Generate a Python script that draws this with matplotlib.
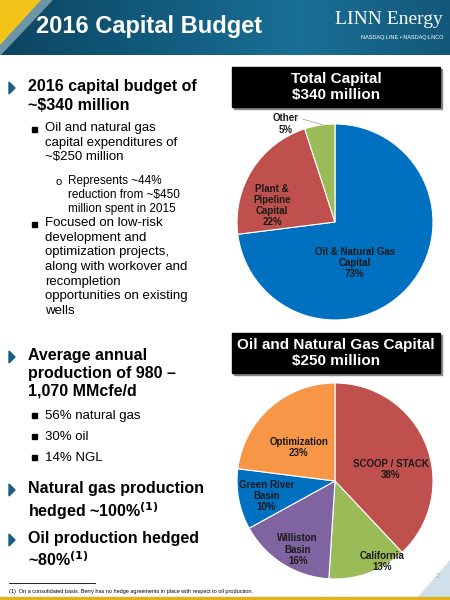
import matplotlib
matplotlib.use("Agg")
import matplotlib.pyplot as plt
import numpy as np
from matplotlib.patches import Rectangle, Polygon
from matplotlib.colors import LinearSegmentedColormap

total_labels = ["Oil & Natural Gas\nCapital\n73%", "Plant &\nPipeline\nCapital\n22%", "Other\n5%"]
total_values = [73, 22, 5]
total_colors = ["#0070C0", "#C0504D", "#9BBB59"]

ong_labels = ["SCOOP / STACK\n38%", "California\n13%", "Williston\nBasin\n16%", "Green River\nBasin\n10%", "Optimization\n23%"]
ong_values = [38, 13, 16, 10, 23]
ong_colors = ["#C0504D", "#9BBB59", "#8064A2", "#0070C0", "#F79646"]

W, H = 450, 600
fig = plt.figure(figsize=(4.5, 6), dpi=100)
fig.patch.set_facecolor("white")
plt.rcParams['font.family'] = ['Liberation Sans', 'DejaVu Sans']

def ax_px(x0, y0, w, h, **kw):
    return fig.add_axes([x0 / W, 1 - (y0 + h) / H, w / W, h / H], **kw)

# header
hax = ax_px(0, 0, 450, 55)
grad = np.linspace(0, 1, 256)[None, :]
cm = LinearSegmentedColormap.from_list("h", ["#0d4561", "#125a7c", "#1a6f96", "#13587a"])
hax.imshow(grad, aspect="auto", cmap=cm, extent=[0, 450, 55, 0])
hax.add_patch(Polygon([[0, 0], [42, 0], [0, 46]], closed=True, color="#f2c419"))
hax.add_patch(Polygon([[42, 0], [52, 0], [0, 55], [0, 46]], closed=True, color="#6f95a8"))
hax.set_xlim(0, 450); hax.set_ylim(55, 0); hax.axis("off")
hax.text(36, 27, "2016 Capital Budget", color="white", fontsize=17, fontweight="bold", va="center")
hax.text(443, 20, "LINN Energy", color="white", fontsize=14, family=["Liberation Serif"], ha="right", va="center")
hax.text(443, 38, "NASDAQ:LINE • NASDAQ:LNCO", color="white", fontsize=4, ha="right", va="center")

# text area
tax = ax_px(0, 0, 450, 600)
tax.set_xlim(0, 450); tax.set_ylim(600, 0); tax.axis("off")
tax.set_zorder(-1)

def arrow(y):
    tax.add_patch(Polygon([[9, y - 6], [9, y + 6], [15, y]], closed=True, color="#1a5d82"))

def sq(x, y):
    tax.add_patch(Rectangle((x, y - 3), 5, 5, color="black"))

arrow(88)
tax.text(28, 79, "2016 capital budget of\n~$340 million", fontsize=11.5, fontweight="bold", va="top", linespacing=1.3)
sq(32, 130)
tax.text(45, 122, "Oil and natural gas\ncapital expenditures of\n~$250 million", fontsize=9.5, va="top", linespacing=1.3)
tax.text(55, 182, "o", fontsize=8, va="center")
tax.text(68, 175, "Represents ~44%\nreduction from ~$450\nmillion spent in 2015", fontsize=8.5, va="top", linespacing=1.2)
sq(32, 225)
tax.text(45, 217, "Focused on low-risk\ndevelopment and\noptimization projects,\nalong with workover and\nrecompletion\nopportunities on existing\nwells", fontsize=9.5, va="top", linespacing=1.3)
arrow(357)
tax.text(28, 348, "Average annual\nproduction of 980 –\n1,070 MMcfe/d", fontsize=11.5, fontweight="bold", va="top", linespacing=1.25)
for y, s in [(416, "56% natural gas"), (437, "30% oil"), (458, "14% NGL")]:
    sq(32, y); tax.text(45, y, s, fontsize=9.5, va="center")
arrow(490)
tax.text(28, 481, "Natural gas production\nhedged ~100%$^{\\mathbf{(1)}}$", fontsize=11.5, fontweight="bold", va="top", linespacing=1.25)
arrow(540)
tax.text(28, 531, "Oil production hedged\n~80%$^{\\mathbf{(1)}}$", fontsize=11.5, fontweight="bold", va="top", linespacing=1.25)
tax.plot([9, 95], [583, 583], color="black", lw=0.6)
tax.text(9, 591, "(1)  On a consolidated basis. Berry has no hedge agreements in place with respect to oil production.", fontsize=4, va="center")
tax.text(440, 578, "2", fontsize=6, color="#bbbbbb", ha="right")
tax.add_patch(Polygon([[450, 560], [450, 600], [415, 600]], closed=True, color="#cfe0ea"))
tax.add_patch(Rectangle((0, 597), 450, 3, color="#e2b21c"))

# title boxes
for y0, s in [(67, "Total Capital\n$340 million"), (333, "Oil and Natural Gas Capital\n$250 million")]:
    tax.add_patch(Rectangle((234, y0 + 2), 208, 40, color="#888888"))
    tax.add_patch(Rectangle((232, y0), 208, 40, color="black"))
    tax.text(336, y0 + 20, s, color="white", fontsize=11, fontweight="bold", ha="center", va="center", linespacing=1.15)

lk = dict(fontsize=7, fontweight="bold", ha="center", va="center", color="#1a1a1a", linespacing=1.15)

# pie 1
p1 = ax_px(237, 124, 196, 196)
p1.pie(total_values, colors=total_colors, startangle=90, counterclock=False,
       wedgeprops=dict(edgecolor="white", linewidth=0.8))
p1.text(0.2, -0.42, total_labels[0], **lk)
p1.text(-0.64, 0.17, total_labels[1], **lk)
p1.text(-0.5, 1.0, total_labels[2], **lk, clip_on=False)
p1.plot([-0.33, -0.12], [1.05, 0.99], color="#aaaaaa", lw=0.6, clip_on=False)
p1.set_xlim(-1, 1); p1.set_ylim(-1, 1); p1.set_aspect("equal")

# pie 2
p2 = ax_px(237, 383, 196, 196)
p2.pie(ong_values, colors=ong_colors, startangle=90, counterclock=False,
       wedgeprops=dict(edgecolor="white", linewidth=0.8))
p2.text(0.57, 0.12, ong_labels[0], **lk)
p2.text(0.48, -0.82, ong_labels[1], **lk)
p2.text(-0.38, -0.7, ong_labels[2], **lk)
p2.text(-0.7, -0.15, ong_labels[3], **lk)
p2.text(-0.37, 0.34, ong_labels[4], **lk)
p2.set_xlim(-1, 1); p2.set_ylim(-1, 1); p2.set_aspect("equal")

fig.savefig("out.png", dpi=100)
